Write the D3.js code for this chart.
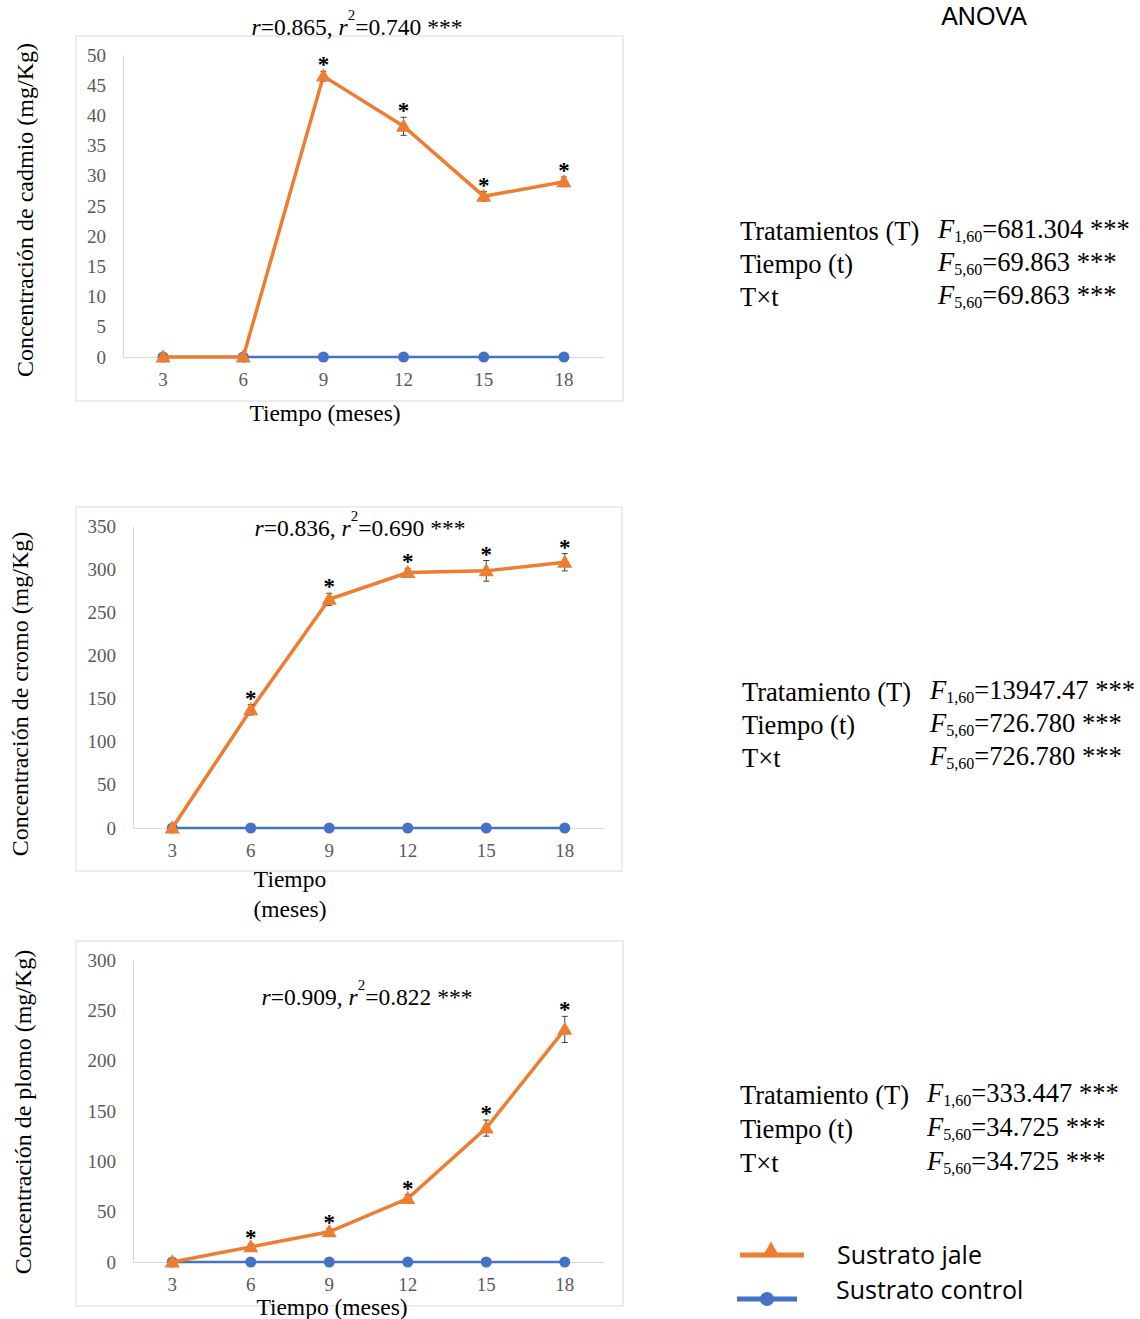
<!DOCTYPE html>
<html>
<head>
<meta charset="utf-8">
<script src="https://cdn.jsdelivr.net/npm/d3@7"></script>
<style>
  body { margin: 0; background: #fff; }
  svg { display: block; }
  .serif { font-family: "Liberation Serif", "Times New Roman", serif; }
  .sans { font-family: "Open Sans", "Liberation Sans", sans-serif; }
</style>
</head>
<body>
<svg id="chart" width="1140" height="1319"></svg>
<script>
// months on the x axis
const months = ["3", "6", "9", "12", "15", "18"];

// cadmium
const cdJale = [0, 0, 46.5, 38.2, 26.6, 29.0];
const cdJaleErr = [0, 0, 0.8, 1.5, 0.8, 0.8];
const cdControl = [0, 0, 0, 0, 0, 0];
const cdStars = [false, false, true, true, true, true];
const cdTicks = [0, 5, 10, 15, 20, 25, 30, 35, 40, 45, 50];

// chromium
const crJale = [0, 137, 265, 296, 298, 308];
const crJaleErr = [0, 6, 7, 5, 12, 10];
const crControl = [0, 0, 0, 0, 0, 0];
const crStars = [false, true, true, true, true, true];
const crTicks = [0, 50, 100, 150, 200, 250, 300, 350];

// lead
const pbJale = [0, 15, 30, 63, 133, 231];
const pbJaleErr = [0, 3, 3, 4, 8, 13];
const pbControl = [0, 0, 0, 0, 0, 0];
const pbStars = [false, true, true, true, true, true];
const pbTicks = [0, 50, 100, 150, 200, 250, 300];

// ANOVA rows
const anovaLabels1 = ["Tratamientos (T)", "Tiempo (t)", "T×t"];
const anovaSub1 = ["1,60", "5,60", "5,60"];
const anovaVal1 = ["=681.304 ***", "=69.863 ***", "=69.863 ***"];
const anovaLabels2 = ["Tratamiento (T)", "Tiempo (t)", "T×t"];
const anovaSub2 = ["1,60", "5,60", "5,60"];
const anovaVal2 = ["=13947.47 ***", "=726.780 ***", "=726.780 ***"];
const anovaLabels3 = ["Tratamiento (T)", "Tiempo (t)", "T×t"];
const anovaSub3 = ["1,60", "5,60", "5,60"];
const anovaVal3 = ["=333.447 ***", "=34.725 ***", "=34.725 ***"];

const seriesNames = ["Sustrato jale", "Sustrato control"];

const ORANGE = "#ED7D31";
const BLUE = "#4472C4";

const svg = d3.select("#chart");

function drawPanel(p) {
  const g = svg.append("g");

  // outer chart frame
  g.append("rect")
    .attr("x", p.frame[0]).attr("y", p.frame[1])
    .attr("width", p.frame[2]).attr("height", p.frame[3])
    .attr("fill", "none").attr("stroke", "#d9d9d9").attr("stroke-width", 1);

  const x = d3.scaleBand().domain(months).range([p.left, p.right]);
  const y = d3.scaleLinear().domain([0, d3.max(p.ticks)]).range([p.bottom, p.top]);
  const cx = i => x(months[i]) + x.bandwidth() / 2;

  // y axis
  const yAx = g.append("g")
    .attr("transform", `translate(${p.left},0)`)
    .call(d3.axisLeft(y).tickValues(p.ticks).tickSize(0).tickPadding(17));
  yAx.select(".domain").attr("stroke", "#d9d9d9");
  yAx.selectAll("text")
    .attr("class", "serif").attr("font-size", 19).attr("fill", "#595959");

  // x axis
  const xAx = g.append("g")
    .attr("transform", `translate(0,${p.bottom})`)
    .call(d3.axisBottom(x).tickSize(0).tickPadding(16));
  xAx.select(".domain").attr("stroke", "#d9d9d9");
  xAx.selectAll("text")
    .attr("class", "serif").attr("font-size", 19).attr("fill", "#595959");

  const line = d3.line().x((d, i) => cx(i)).y(d => y(d));

  // control
  g.append("path").datum(p.control)
    .attr("d", line).attr("fill", "none")
    .attr("stroke", BLUE).attr("stroke-width", 2.5);
  g.selectAll(".ctrl").data(p.control).enter().append("circle")
    .attr("cx", (d, i) => cx(i)).attr("cy", d => y(d))
    .attr("r", 5.5).attr("fill", BLUE);

  // jale
  g.append("path").datum(p.jale)
    .attr("d", line).attr("fill", "none")
    .attr("stroke", ORANGE).attr("stroke-width", 3.5);

  // error bars
  p.jale.forEach((v, i) => {
    if (p.err[i] <= 0) return;
    const xx = cx(i);
    const lo = y(v - p.err[i]), hi = y(v + p.err[i]);
    const e = g.append("g").attr("stroke", "#404040").attr("stroke-width", 1);
    e.append("line").attr("x1", xx).attr("x2", xx).attr("y1", lo).attr("y2", hi);
    e.append("line").attr("x1", xx - 3).attr("x2", xx + 3).attr("y1", lo).attr("y2", lo);
    e.append("line").attr("x1", xx - 3).attr("x2", xx + 3).attr("y1", hi).attr("y2", hi);
  });

  const tri = d3.symbol().type(d3.symbolTriangle).size(100);
  g.selectAll(".jale").data(p.jale).enter().append("path")
    .attr("d", tri)
    .attr("transform", (d, i) => `translate(${cx(i)},${y(d) + 1})`)
    .attr("fill", ORANGE);

  // significance stars
  p.jale.forEach((v, i) => {
    if (!p.stars[i]) return;
    g.append("text").attr("class", "serif")
      .attr("x", cx(i)).attr("y", y(v + p.err[i]) + 1)
      .attr("text-anchor", "middle").attr("font-size", 23).attr("font-weight", "bold")
      .attr("fill", "#000").text("*");
  });

  // correlation title
  const t = g.append("text").attr("class", "serif")
    .attr("x", p.titleX).attr("y", p.titleY)
    .attr("text-anchor", "middle").attr("font-size", 23.5).attr("fill", "#000");
  t.append("tspan").attr("font-style", "italic").text("r");
  t.append("tspan").text(p.r + ", ");
  t.append("tspan").attr("font-style", "italic").text("r");
  t.append("tspan").attr("font-size", 15).attr("dy", -15).text("2");
  t.append("tspan").attr("dy", 15).text(p.r2 + " ***");

  // y title
  g.append("text").attr("class", "serif")
    .attr("transform", `translate(${p.yTitleX},${p.yTitleY}) rotate(-90)`)
    .attr("text-anchor", "middle").attr("font-size", 24).attr("fill", "#000")
    .text(p.yTitle);

  // x title
  p.xTitle.forEach((s, k) => {
    g.append("text").attr("class", "serif")
      .attr("x", p.xTitleX).attr("y", p.xTitleY + k * 30)
      .attr("text-anchor", "middle").attr("font-size", 23.5).attr("fill", "#000")
      .text(s);
  });
}

function drawAnova(labels, subs, vals, lx, fx, y0, dy) {
  labels.forEach((lab, i) => {
    svg.append("text").attr("class", "serif")
      .attr("x", lx).attr("y", y0 + i * dy)
      .attr("font-size", 26.5).attr("fill", "#000").text(lab);
    const t = svg.append("text").attr("class", "serif")
      .attr("x", fx).attr("y", y0 + i * dy - 2)
      .attr("font-size", 26.5).attr("fill", "#000");
    t.append("tspan").attr("font-style", "italic").text("F");
    t.append("tspan").attr("font-size", 16).attr("dy", 4).text(subs[i]);
    t.append("tspan").attr("dy", -4).text(vals[i]);
  });
}

drawPanel({
  frame: [76, 36, 547, 365], left: 123, right: 604, top: 55, bottom: 357,
  ticks: cdTicks, jale: cdJale, err: cdJaleErr, control: cdControl, stars: cdStars,
  r: "=0.865", r2: "=0.740", titleX: 357, titleY: 35,
  yTitle: "Concentración de cadmio (mg/Kg)", yTitleX: 33, yTitleY: 210,
  xTitle: ["Tiempo (meses)"], xTitleX: 325, xTitleY: 421
});

drawPanel({
  frame: [76, 507, 546, 364], left: 133, right: 604, top: 526, bottom: 828,
  ticks: crTicks, jale: crJale, err: crJaleErr, control: crControl, stars: crStars,
  r: "=0.836", r2: "=0.690", titleX: 360, titleY: 536,
  yTitle: "Concentración de cromo (mg/Kg)", yTitleX: 28, yTitleY: 694,
  xTitle: ["Tiempo", "(meses)"], xTitleX: 290, xTitleY: 887
});

drawPanel({
  frame: [76, 941, 547, 365], left: 133, right: 604, top: 960, bottom: 1262,
  ticks: pbTicks, jale: pbJale, err: pbJaleErr, control: pbControl, stars: pbStars,
  r: "=0.909", r2: "=0.822", titleX: 367, titleY: 1005,
  yTitle: "Concentración de plomo (mg/Kg)", yTitleX: 31, yTitleY: 1112,
  xTitle: ["Tiempo (meses)"], xTitleX: 332, xTitleY: 1315
});

// ANOVA heading
svg.append("text").attr("font-family", "Liberation Sans, sans-serif")
  .attr("x", 984).attr("y", 25).attr("text-anchor", "middle")
  .attr("font-size", 25).attr("fill", "#000").text("ANOVA");

drawAnova(anovaLabels1, anovaSub1, anovaVal1, 740, 938, 240, 33);
drawAnova(anovaLabels2, anovaSub2, anovaVal2, 742, 930, 701, 33);
drawAnova(anovaLabels3, anovaSub3, anovaVal3, 740, 927, 1104, 34);

// legend
const leg = svg.append("g");
leg.append("line").attr("x1", 740).attr("x2", 804).attr("y1", 1255).attr("y2", 1255)
  .attr("stroke", ORANGE).attr("stroke-width", 5);
leg.append("path").attr("d", d3.symbol().type(d3.symbolTriangle).size(140))
  .attr("transform", "translate(771,1252)").attr("fill", ORANGE);
leg.append("line").attr("x1", 737).attr("x2", 797).attr("y1", 1299).attr("y2", 1299)
  .attr("stroke", BLUE).attr("stroke-width", 5);
leg.append("circle").attr("cx", 767).attr("cy", 1299).attr("r", 7).attr("fill", BLUE);
leg.selectAll(".lt").data(seriesNames).enter().append("text")
  .attr("class", "sans")
  .attr("x", (d, i) => i === 0 ? 837 : 836)
  .attr("y", (d, i) => i === 0 ? 1264 : 1299)
  .attr("font-size", 25).attr("fill", "#000")
  .text(d => d);
</script>
</body>
</html>
